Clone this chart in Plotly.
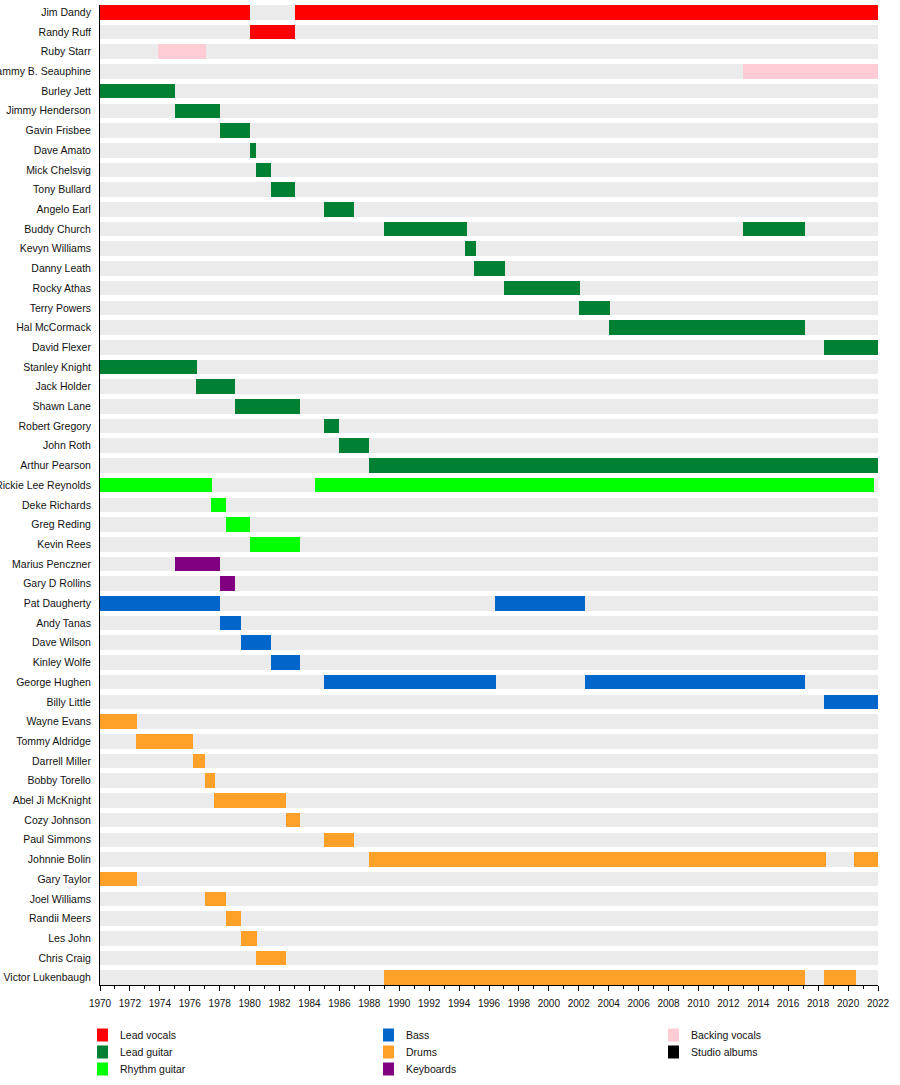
import plotly.graph_objects as go

members = [
    "Jim Dandy", "Randy Ruff", "Ruby Starr", "Tammy B. Seauphine",
    "Burley Jett", "Jimmy Henderson", "Gavin Frisbee", "Dave Amato",
    "Mick Chelsvig", "Tony Bullard", "Angelo Earl", "Buddy Church",
    "Kevyn Williams", "Danny Leath", "Rocky Athas", "Terry Powers",
    "Hal McCormack", "David Flexer", "Stanley Knight", "Jack Holder",
    "Shawn Lane", "Robert Gregory", "John Roth", "Arthur Pearson",
    "Rickie Lee Reynolds", "Deke Richards", "Greg Reding", "Kevin Rees",
    "Marius Penczner", "Gary D Rollins", "Pat Daugherty", "Andy Tanas",
    "Dave Wilson", "Kinley Wolfe", "George Hughen", "Billy Little",
    "Wayne Evans", "Tommy Aldridge", "Darrell Miller", "Bobby Torello",
    "Abel Ji McKnight", "Cozy Johnson", "Paul Simmons", "Johnnie Bolin",
    "Gary Taylor", "Joel Williams", "Randii Meers", "Les John",
    "Chris Craig", "Victor Lukenbaugh",
]

# (member, start, end) per role
lead_vocals = [("Jim Dandy", 1970, 1980), ("Jim Dandy", 1983, 2022),
               ("Randy Ruff", 1980, 1983)]
backing_vocals = [("Ruby Starr", 1973.9, 1977.1), ("Tammy B. Seauphine", 2013, 2022)]
lead_guitar = [
    ("Burley Jett", 1970, 1975), ("Jimmy Henderson", 1975, 1978),
    ("Gavin Frisbee", 1978, 1980), ("Dave Amato", 1980, 1980.4),
    ("Mick Chelsvig", 1980.4, 1981.4), ("Tony Bullard", 1981.4, 1983),
    ("Angelo Earl", 1985, 1987), ("Buddy Church", 1989, 1994.5),
    ("Buddy Church", 2013, 2017.1), ("Kevyn Williams", 1994.4, 1995.1),
    ("Danny Leath", 1995, 1997.1), ("Rocky Athas", 1997, 2002.1),
    ("Terry Powers", 2002, 2004.1), ("Hal McCormack", 2004, 2017.1),
    ("David Flexer", 2018.4, 2022), ("Stanley Knight", 1970, 1976.5),
    ("Jack Holder", 1976.4, 1979), ("Shawn Lane", 1979, 1983.4),
    ("Robert Gregory", 1985, 1986), ("John Roth", 1986, 1988),
    ("Arthur Pearson", 1988, 2022),
]
rhythm_guitar = [
    ("Rickie Lee Reynolds", 1970, 1977.5), ("Rickie Lee Reynolds", 1984.4, 2021.7),
    ("Deke Richards", 1977.4, 1978.4), ("Greg Reding", 1978.4, 1980),
    ("Kevin Rees", 1980, 1983.4),
]
keyboards = [("Marius Penczner", 1975, 1978), ("Gary D Rollins", 1978, 1979)]
bass = [
    ("Pat Daugherty", 1970, 1978), ("Pat Daugherty", 1996.4, 2002.4),
    ("Andy Tanas", 1978, 1979.4), ("Dave Wilson", 1979.4, 1981.4),
    ("Kinley Wolfe", 1981.4, 1983.4), ("George Hughen", 1985, 1996.5),
    ("George Hughen", 2002.4, 2017.1), ("Billy Little", 2018.4, 2022),
]
drums = [
    ("Wayne Evans", 1970, 1972.5), ("Tommy Aldridge", 1972.4, 1976.2),
    ("Darrell Miller", 1976.2, 1977), ("Bobby Torello", 1977, 1977.7),
    ("Abel Ji McKnight", 1977.6, 1982.4), ("Cozy Johnson", 1982.4, 1983.4),
    ("Paul Simmons", 1985, 1987), ("Johnnie Bolin", 1988, 2018.5),
    ("Johnnie Bolin", 2020.4, 2022), ("Gary Taylor", 1970, 1972.5),
    ("Joel Williams", 1977, 1978.4), ("Randii Meers", 1978.4, 1979.4),
    ("Les John", 1979.4, 1980.5), ("Chris Craig", 1980.4, 1982.4),
    ("Victor Lukenbaugh", 1989, 2017.1), ("Victor Lukenbaugh", 2018.4, 2020.5),
]

roles = [
    ("Lead vocals", "#ff0000", lead_vocals),
    ("Lead guitar", "#008033", lead_guitar),
    ("Rhythm guitar", "#00ff00", rhythm_guitar),
    ("Bass", "#0066cc", bass),
    ("Drums", "#ffa028", drums),
    ("Keyboards", "#800080", keyboards),
    ("Backing vocals", "#ffccd5", backing_vocals),
    ("Studio albums", "#000000", []),
]

FONT = "Liberation Sans, Arial, sans-serif"
BAR_W = 0.74
fig = go.Figure()

# grey background rows
fig.add_trace(go.Bar(
    y=members, x=[2022 - 1970] * len(members), base=[1970] * len(members),
    orientation="h", marker=dict(color="#ebebeb", line=dict(width=0)),
    width=BAR_W, showlegend=False, hoverinfo="skip"))

for name, color, segs in roles:
    if not segs:
        continue
    fig.add_trace(go.Bar(
        y=[s[0] for s in segs],
        x=[s[2] - s[1] for s in segs],
        base=[s[1] for s in segs],
        orientation="h", name=name,
        marker=dict(color=color, line=dict(width=0)),
        width=BAR_W, showlegend=False))

# hand-made legend, three columns
W, H = 900, 1085
L, R, T, B = 100, 22, 5, 100
def px(x):
    return (x - L) / (W - L - R)
def py(y):
    return (H - B - y) / (H - T - B)

cols = [97, 383, 668]
rows = [1035, 1052, 1069]
shapes, annotations = [], []
for i, (name, color, _) in enumerate(roles):
    c = cols[i // 3] if i < 6 else cols[2]
    r = rows[i % 3] if i < 6 else rows[i - 6]
    shapes.append(dict(type="rect", xref="paper", yref="paper",
                       x0=px(c), x1=px(c + 11), y0=py(r - 6.5), y1=py(r + 6.5),
                       fillcolor=color, line=dict(width=0)))
    annotations.append(dict(xref="paper", yref="paper", x=px(c + 21), y=py(r),
                            text=name, showarrow=False, xanchor="left",
                            yanchor="middle", font=dict(size=10.5, color="#111",
                                                        family=FONT)))

n = len(members)
fig.update_layout(
    width=W, height=H, margin=dict(l=L, r=R, t=T, b=B, autoexpand=False),
    barmode="overlay", bargap=0,
    plot_bgcolor="white", paper_bgcolor="white",
    font=dict(family=FONT, size=11, color="#111"),
    shapes=shapes, annotations=annotations,
    xaxis=dict(range=[1970, 2022], dtick=2, tick0=1970, tickformat="d",
               automargin=False,
               showgrid=False, zeroline=False, showline=True,
               linecolor="black", linewidth=1, ticks="outside", ticklen=5,
               tickcolor="black", tickfont=dict(size=10), ticklabelstandoff=4,
               minor=dict(dtick=1, ticks="outside", ticklen=3,
                          tickcolor="black", showgrid=False)),
    yaxis=dict(categoryorder="array", categoryarray=members,
               range=[n - 1 + BAR_W / 2, -BAR_W / 2],
               showgrid=False, zeroline=False,
               automargin=False,
               showline=True, linecolor="black", linewidth=1,
               ticks="", ticklabelstandoff=6, tickfont=dict(size=10.5)),
)

fig.write_html("out.html", config={"displayModeBar": False},
               post_script="document.body.style.margin='0';")
